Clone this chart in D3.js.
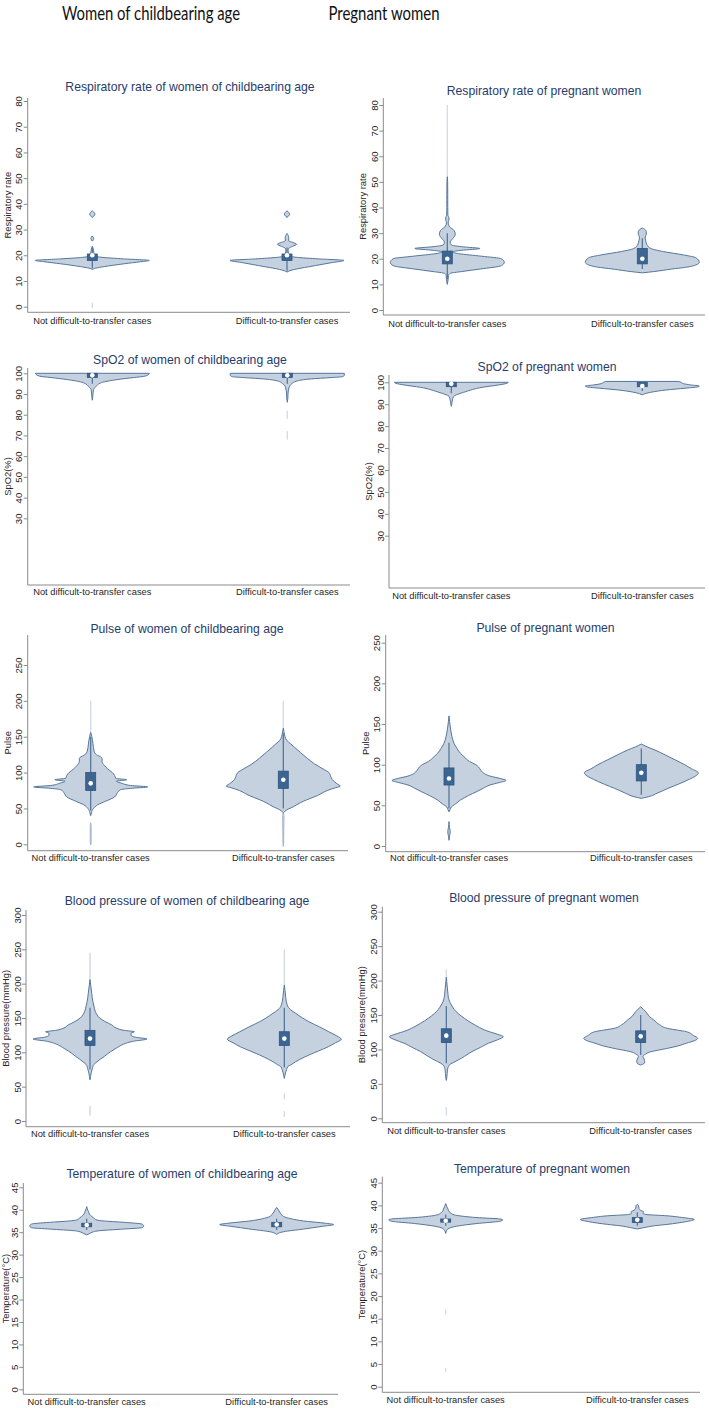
<!DOCTYPE html>
<html><head><meta charset="utf-8">
<script src="https://cdn.jsdelivr.net/npm/d3@7"></script>
<style>body{margin:0;background:#fff}</style>
</head><body>
<svg id="c" width="709" height="1408"></svg>
<script>
// ---------- DATA ----------
const headers = ["Women of childbearing age", "Pregnant women"];
const categories = ["Not difficult-to-transfer cases", "Difficult-to-transfer cases"];
const panelTitles = [
  "Respiratory rate of women of childbearing age", "Respiratory rate of pregnant women",
  "SpO2 of women of childbearing age", "SpO2 of pregnant women",
  "Pulse of women of childbearing age", "Pulse of pregnant women",
  "Blood pressure of women of childbearing age", "Blood pressure of pregnant women",
  "Temperature of women of childbearing age", "Temperature of pregnant women"
];
const yAxisTitles = ["Respiratory rate", "Respiratory rate", "SpO2(%)", "SpO2(%)", "Pulse", "Pulse",
  "Blood pressure(mmHg)", "Blood pressure(mmHg)", "Temperature(\u00B0C)", "Temperature(\u00B0C)"];
const ticksRR = [0, 10, 20, 30, 40, 50, 60, 70, 80];
const ticksSpO2 = [30, 40, 50, 60, 70, 80, 90, 100];
const ticksPulse = [0, 50, 100, 150, 200, 250];
const ticksBP = [0, 50, 100, 150, 200, 250, 300];
const ticksTemp = [0, 5, 10, 15, 20, 25, 30, 35, 40, 45];

// violin density profiles: segments of [value, relative density (max = 1)]
const rrWomenNot = [
  [[14.5,0],[15,0.06],[15.6,0.21],[16.7,0.56],[17.5,0.85],[18,1.0],[18.6,0.55],[19.2,0.17],[19.6,0.06],[20.5,0.03],[22,0.02],[23,0.01],[23.5,0]],
  [[25.5,0],[26.5,0.025],[27.5,0]],
  [[34.7,0],[36,0.045],[37.3,0]],
  [[-0.5,0],[0.5,0.004],[1.5,0]]
];
const rrWomenDiff = [
  [[13.5,0],[14,0.05],[16,0.5],[17.2,0.8],[18,1.0],[18.6,0.55],[19.2,0.17],[19.6,0.06],[20.5,0.03],[22,0.02],[22.7,0.03],[23.5,0.1],[24.3,0.17],[25,0.1],[25.6,0.03],[27,0.03],[28.5,0]],
  [[34.7,0],[36,0.045],[37.3,0]]
];
const rrPregNot = [
  [[10,0],[12,0.015],[13.5,0.02],[14.3,0.05],[15,0.25],[16,0.58],[17.3,0.95],[18.6,1.0],[20,0.95],[21,0.6],[22,0.2],[22.7,0.09],[23.3,0.25],[24,0.57],[24.7,0.25],[25.4,0.07],[26.5,0.05],[28,0.1],[29.5,0.14],[31,0.12],[32.5,0.04],[34,0.015],[35,0.025],[36,0.03],[37,0.01],[40,0.008],[45,0.008],[50,0.006],[52,0]],
  [[52,0],[65,0.004],[80,0]]
];
const rrPregDiff = [
  [[14.5,0],[15,0.2],[15.9,0.49],[17,0.85],[18.6,1.0],[20.4,0.94],[21.5,0.72],[22.8,0.37],[24,0.15],[25.5,0.08],[27,0.06],[28.5,0.05],[29.5,0.07],[30.5,0.07],[31.5,0.04],[32,0]]
];
const spWomenNot = [
  [[87,0],[88,0.005],[92,0.02],[93.5,0.06],[95.5,0.16],[97,0.45],[98,0.74],[98.5,0.9],[99.3,0.98],[100,1.0]]
];
const spWomenDiff = [
  [[86,0],[88,0.01],[90,0.012],[93,0.03],[95,0.08],[96.5,0.2],[97.3,0.42],[97.9,0.75],[98.4,0.97],[99,1.0],[100,1.0]],
  [[78,0],[80,0.004],[82,0]],
  [[68,0],[70,0.004],[72,0]]
];
const spPregNot = [
  [[89,0],[89.5,0.005],[92,0.02],[93.5,0.04],[95.7,0.25],[97.7,0.54],[98.8,0.83],[99.5,0.97],[100,1.0]]
];
const spPregDiff = [
  [[94.3,0],[94.8,0.05],[95.5,0.16],[96.5,0.42],[97.3,0.75],[97.9,0.97],[98.3,1.0],[98.8,0.85],[99.4,0.72],[100,0.68],[100.4,0.64]]
];
const puWomenNot = [
  [[40,0],[44,0.015],[47,0.025],[50,0.05],[55,0.12],[60,0.26],[66,0.42],[72,0.47],[76,0.52],[78,0.7],[80,1.0],[82,0.7],[85,0.55],[88,0.45],[90,0.63],[92,0.44],[96,0.42],[100,0.38],[105,0.3],[110,0.24],[115,0.2],[119,0.2],[121,0.19],[125,0.1],[130,0.06],[140,0.04],[150,0.02],[156,0]],
  [[156,0],[175,0.004],[200,0]],
  [[-1,0],[2,0.008],[25,0.008],[30,0]]
];
const puWomenDiff = [
  [[44,0],[48,0.06],[52.5,0.18],[58,0.3],[62,0.41],[68,0.6],[75,0.77],[79,0.92],[81,1.0],[84,0.95],[90,0.86],[95,0.83],[100,0.8],[105,0.7],[112,0.55],[120,0.42],[128,0.3],[135,0.2],[140,0.13],[145,0.06],[150,0.03],[157,0.012],[162,0]],
  [[162,0],[180,0.004],[200,0]],
  [[-3,0],[0,0.005],[20,0.008],[40,0.012],[44,0]]
];
const puPregNot = [
  [[42,0],[45,0.02],[48,0.04],[52,0.12],[56.5,0.2],[62,0.34],[67,0.49],[71,0.6],[75,0.72],[78,0.88],[80.5,1.0],[83,0.9],[86,0.72],[89,0.62],[93,0.56],[97,0.52],[100,0.47],[104,0.36],[110,0.26],[114,0.2],[120,0.14],[126,0.09],[135,0.05],[145,0.025],[153,0.01],[160,0]],
  [[7,0],[12,0.008],[16,0.02],[19,0.02],[23,0.008],[30,0]]
];
const puPregDiff = [
  [[58.6,0],[60.7,0.13],[65,0.28],[70.9,0.47],[76,0.65],[82,0.84],[86,0.95],[90,1.0],[95,0.88],[100,0.76],[105.7,0.6],[112,0.42],[118,0.24],[122,0.1],[125.4,0]]
];
const bpWomenNot = [
  [[60,0],[65,0.01],[70,0.02],[76,0.04],[82.5,0.07],[86,0.12],[90,0.18],[94,0.25],[98.5,0.32],[102,0.38],[105,0.44],[109,0.52],[112,0.59],[116,0.75],[119.5,1.0],[122,0.8],[125,0.72],[128,0.72],[130,0.78],[132,0.6],[135,0.47],[140,0.38],[145,0.26],[150,0.17],[155,0.12],[160,0.09],[167,0.07],[174,0.05],[186,0.03],[198,0.012],[206,0]],
  [[206,0],[225,0.004],[245,0]],
  [[8,0],[12,0.005],[18,0.005],[22,0]]
];
const bpWomenDiff = [
  [[62,0],[66,0.01],[70,0.02],[75,0.04],[79,0.06],[82,0.12],[86.4,0.2],[90,0.28],[96,0.43],[102,0.6],[108,0.77],[114,0.9],[119,1.0],[124,0.92],[130,0.78],[137,0.62],[144.7,0.43],[150,0.32],[156.8,0.2],[162,0.11],[169,0.05],[180,0.025],[190,0.012],[198,0]],
  [[198,0],[220,0.004],[250,0]],
  [[6,0],[10,0.004],[14,0]],
  [[32,0],[36,0.004],[40,0]]
];
const bpPregNot = [
  [[55,0],[60,0.01],[70,0.02],[77,0.05],[80,0.1],[84.7,0.21],[90,0.32],[96.8,0.45],[103,0.6],[109,0.74],[114,0.9],[118.5,1.0],[122,0.9],[127,0.71],[132,0.58],[138,0.45],[145,0.32],[152,0.21],[158,0.14],[164.5,0.09],[170,0.055],[174,0.04],[180,0.03],[188,0.02],[198,0.008],[205,0]],
  [[205,0],[210,0.003],[216,0]],
  [[4,0],[10,0.004],[16,0]]
];
const bpPregDiff = [
  [[77.4,0],[79,0.05],[82,0.07],[86,0.06],[90,0.04],[93,0.08],[96,0.15],[101.6,0.47],[105,0.65],[109,0.8],[113,0.95],[116,1.0],[120,0.93],[125.8,0.8],[128,0.65],[130.6,0.47],[136,0.33],[142.7,0.23],[148,0.15],[154.8,0.09],[158,0.05],[162,0]]
];
const tpWomenNot = [
  [[34.4,0],[34.7,0.05],[35,0.1],[35.3,0.2],[35.7,0.65],[36,0.97],[36.4,1.0],[36.8,0.97],[37.2,0.65],[37.5,0.3],[37.7,0.18],[38.2,0.12],[38.5,0.09],[39,0.05],[39.6,0.03],[40.2,0.01],[40.7,0]]
];
const tpWomenDiff = [
  [[34.5,0],[35.1,0.12],[35.7,0.47],[36.3,0.8],[36.7,1.0],[37,0.85],[37.5,0.47],[38,0.25],[38.5,0.12],[39,0.08],[39.5,0.05],[40,0.03],[40.5,0]]
];
const tpPregNot = [
  [[33.8,0],[34.5,0.02],[34.8,0.04],[35.3,0.15],[35.7,0.35],[36,0.55],[36.5,0.95],[36.8,1.0],[37,0.95],[37.3,0.55],[37.6,0.3],[37.9,0.15],[38.3,0.09],[38.6,0.06],[39.2,0.04],[39.7,0.02],[40.4,0]],
  [[16,0],[16.5,0.004],[17,0]],
  [[3.3,0],[3.7,0.004],[4.1,0]]
];
const tpPregDiff = [
  [[34.8,0],[35.1,0.12],[35.5,0.3],[35.8,0.52],[36.4,0.85],[36.9,1.0],[37.3,0.8],[37.7,0.52],[38,0.15],[38.3,0.1],[38.6,0.11],[38.9,0.06],[39.3,0.03],[40,0.02],[40.2,0]]
];

// box stats: [lower adjacent, q1, median, q3, upper adjacent]
const boxRR = [[15,18,20,20.5,23],[14,18,20,20.5,23],[12,18,20,23,30],[16,18,20,24,28]];
const boxSpO2 = [[95,98,99,100,100],[95,98,99,100,100],[95,98,99.3,100,100],[96,98,98.3,100,100]];
const boxPulse = [[47,75,85,100,150],[50,78,90,102,155],[46,75,83,96,127],[63,80,90,100,120]];
const boxBP = [[75,110,120,132,165],[78,110,120,130,165],[80,110,120,130,163],[92,110,119,127,150]];
const boxTemp = [[35.5,36.2,36.6,37,38],[35.5,36.2,36.7,37.2,38],[35.5,36.3,36.6,37,38],[35.5,36.2,36.8,37.3,38.5]];

// ---------- PANEL WIRING ----------
const panelTicks = [ticksRR, ticksRR, ticksSpO2, ticksSpO2, ticksPulse, ticksPulse, ticksBP, ticksBP, ticksTemp, ticksTemp];
const panelViolins = [
  [rrWomenNot, rrWomenDiff], [rrPregNot, rrPregDiff],
  [spWomenNot, spWomenDiff], [spPregNot, spPregDiff],
  [puWomenNot, puWomenDiff], [puPregNot, puPregDiff],
  [bpWomenNot, bpWomenDiff], [bpPregNot, bpPregDiff],
  [tpWomenNot, tpWomenDiff], [tpPregNot, tpPregDiff]
];
const panelBoxes = [
  [boxRR[0], boxRR[1]], [boxRR[2], boxRR[3]],
  [boxSpO2[0], boxSpO2[1]], [boxSpO2[2], boxSpO2[3]],
  [boxPulse[0], boxPulse[1]], [boxPulse[2], boxPulse[3]],
  [boxBP[0], boxBP[1]], [boxBP[2], boxBP[3]],
  [boxTemp[0], boxTemp[1]], [boxTemp[2], boxTemp[3]]
];

// ---------- LAYOUT (pixels) ----------
const layout = [
  {ax:27.7, top:98,    bottom:312.3,  right:350, yPx:[306.7,101],   cx:[92.3,287],   titleX:190,   titleY:91,     labelY:323.5},
  {ax:383.3,top:98,    bottom:315,    right:705, yPx:[310,105],     cx:[447.3,642.3],titleX:544,   titleY:94.5,   labelY:326.5},
  {ax:27.7, top:368,   bottom:585,    right:350, yPx:[518.3,373.3], cx:[92.3,287.3], titleX:190,   titleY:363.5,  labelY:595},
  {ax:389,  top:375,   bottom:588,    right:705, yPx:[535.7,382.3], cx:[451.3,642.3],titleX:547,   titleY:371,    labelY:598.5},
  {ax:27.7, top:635,   bottom:850.7,  right:348, yPx:[844.3,665],   cx:[90.7,283.3], titleX:187,   titleY:632.6,  labelY:861},
  {ax:385.7,top:635,   bottom:851.7,  right:705, yPx:[846,642.7],   cx:[449,641.3],  titleX:545.5, titleY:631.5,  labelY:861},
  {ax:26,   top:910,   bottom:1126.7, right:350, yPx:[1121,915],    cx:[90,284.3],   titleX:187,   titleY:905.3,  labelY:1137},
  {ax:382.3,top:906.7, bottom:1122.7, right:705, yPx:[1118.3,911.7],cx:[446.3,640.7],titleX:544,   titleY:902,    labelY:1133.5},
  {ax:23.3, top:1183,  bottom:1394.3, right:338, yPx:[1389.3,1187.3],cx:[86.7,276.7],titleX:182,   titleY:1177.6, labelY:1405},
  {ax:382.3,top:1176.7,bottom:1392.3, right:700, yPx:[1386.7,1182.7],cx:[445.7,637.3],titleX:542,  titleY:1172.6, labelY:1402.7}
];
const headerLayout = [{x:151, y:20, w:178}, {x:384, y:20, w:111}];
const maxHalfWidth = 57;

const C = {
  title: "#283c6b", axis: "#8a8a8a", text: "#262626",
  vFill: "#c6d1e0", vStroke: "#55769b", box: "#3d6591", boxStroke: "#2e547f", whisker: "#4d6e96"
};
const FONT = "'Liberation Sans', Arial, sans-serif";

const svg = d3.select("#c");

svg.selectAll("text.header").data(headers).join("text")
  .attr("class", "header")
  .attr("x", (d, i) => headerLayout[i].x)
  .attr("y", (d, i) => headerLayout[i].y)
  .attr("text-anchor", "middle")
  .attr("textLength", (d, i) => headerLayout[i].w)
  .attr("lengthAdjust", "spacingAndGlyphs")
  .style("font-family", "Lato, 'Open Sans', sans-serif")
  .style("font-size", "19px")
  .style("fill", "#111")
  .text(d => d);

const w = d3.scaleLinear().domain([0, 1]).range([0, maxHalfWidth]);

panelTitles.forEach((title, i) => {
  const L = layout[i];
  const ticks = panelTicks[i];
  const y = d3.scaleLinear().domain([ticks[0], ticks[ticks.length - 1]]).range(L.yPx);
  const x = d3.scalePoint().domain(categories).range(L.cx);
  const g = svg.append("g");

  // axes lines
  g.append("line").attr("x1", L.ax).attr("x2", L.ax).attr("y1", L.top).attr("y2", L.bottom)
    .attr("stroke", C.axis).attr("stroke-width", 1);
  g.append("line").attr("x1", L.ax).attr("x2", L.right).attr("y1", L.bottom).attr("y2", L.bottom)
    .attr("stroke", C.axis).attr("stroke-width", 1);

  // y axis ticks
  const yAx = g.append("g").attr("transform", `translate(${L.ax},0)`)
    .call(d3.axisLeft(y).tickValues(ticks).tickSize(4).tickFormat(d3.format("d")));
  yAx.select(".domain").remove();
  yAx.attr("font-family", null).attr("font-size", null);
  yAx.selectAll(".tick line").attr("stroke", C.axis);
  yAx.selectAll(".tick text")
    .attr("x", 0).attr("dy", 0)
    .attr("transform", "translate(-5.5,0) rotate(-90)")
    .attr("text-anchor", "middle")
    .style("font-family", FONT).style("font-size", "9.6px").style("fill", C.text);

  // y title
  g.append("text")
    .attr("transform", `translate(${Math.max(L.ax - 17, 9)},${(L.top + L.bottom) / 2}) rotate(-90)`)
    .attr("text-anchor", "middle")
    .style("font-family", FONT).style("font-size", "9.4px").style("fill", C.text)
    .text(yAxisTitles[i]);

  // x category labels
  g.selectAll("text.xl").data(categories).join("text")
    .attr("class", "xl")
    .attr("x", d => x(d)).attr("y", L.labelY)
    .attr("text-anchor", "middle")
    .style("font-family", FONT).style("font-size", "9.3px").style("fill", C.text)
    .text(d => d);

  // title
  g.append("text").attr("x", L.titleX).attr("y", L.titleY)
    .attr("text-anchor", "middle")
    .style("font-family", FONT).style("font-size", "12.2px").style("fill", C.title)
    .text(title);

  // violins
  categories.forEach((cat, j) => {
    const cx = x(cat);
    const area = d3.area()
      .curve(d3.curveMonotoneY)
      .y(d => y(d[0]))
      .x0(d => cx - w(d[1]))
      .x1(d => cx + w(d[1]));
    g.selectAll(null).data(panelViolins[i][j]).join("path")
      .attr("d", area)
      .attr("fill", C.vFill)
      .attr("stroke", C.vStroke)
      .attr("stroke-width", 1)
      .attr("stroke-linejoin", "round")
      .attr("opacity", seg => d3.max(seg, d => d[1]) < 0.006 ? 0.25 : (d3.max(seg, d => d[1]) < 0.015 ? 0.55 : 1));

    const b = panelBoxes[i][j];
    g.append("line").attr("x1", cx).attr("x2", cx).attr("y1", y(b[0])).attr("y2", y(b[4]))
      .attr("stroke", C.whisker).attr("stroke-width", 1.2);
    g.append("rect").attr("x", cx - 5).attr("width", 10)
      .attr("y", y(b[3])).attr("height", Math.max(1, y(b[1]) - y(b[3])))
      .attr("fill", C.box).attr("stroke", C.boxStroke).attr("stroke-width", 0.8);
    g.append("circle").attr("cx", cx).attr("cy", y(b[2])).attr("r", 2.3).attr("fill", "#fff");
  });
});
</script>
</body></html>
